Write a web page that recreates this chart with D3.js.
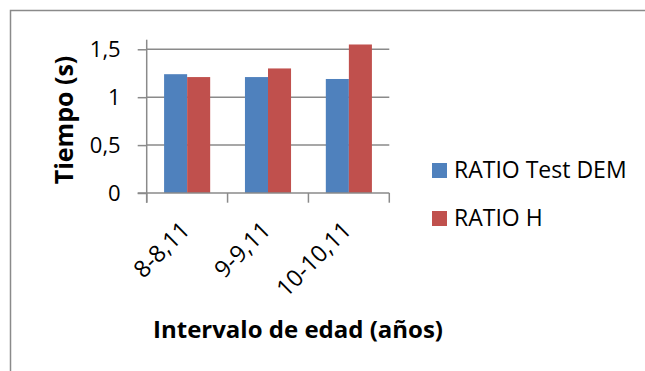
<!DOCTYPE html>
<html><head><meta charset="utf-8">
<script src="https://cdn.jsdelivr.net/npm/d3@7/dist/d3.min.js"></script>
<style>
html,body{margin:0;padding:0;background:#fff;}
svg text{font-family:"Open Sans",sans-serif;fill:#000;}
</style></head>
<body><svg id="c" width="645" height="371"></svg>
<script>
const categories = ["8-8,11", "9-9,11", "10-10,11"];
const seriesNames = ["RATIO Test DEM", "RATIO H"];
const ratioTestDEM = [1.24, 1.21, 1.19];
const ratioH = [1.21, 1.30, 1.55];
const yTicks = [0, 0.5, 1, 1.5];
const yTickLabels = ["0", "0,5", "1", "1,5"];
const colors = ["#4F81BD", "#C0504D"];
const yTitle = "Tiempo (s)";
const xTitle = "Intervalo de edad (años)";

const values = [ratioTestDEM, ratioH];
const svg = d3.select("#c");
const gray = "#8a8a8a";

// outer frame
svg.append("rect").attr("x", 10.5).attr("y", 10.5).attr("width", 700).attr("height", 400)
  .attr("fill", "none").attr("stroke", gray).attr("stroke-width", 1.5);

const pLeft = 146.7, pRight = 389.3, pTop = 39.7, pBottom = 193;
const y = d3.scaleLinear().domain([0, 1.6]).range([pBottom, pTop]);
const x = d3.scaleBand().domain(categories).range([pLeft, pRight]).paddingInner(0).paddingOuter(0);
const bw = x.bandwidth();
const gw = bw * 0.57;
const x1 = d3.scaleBand().domain(seriesNames).range([(bw - gw) / 2, (bw + gw) / 2]);

// gridlines
svg.append("g").selectAll("line").data(yTicks.filter(d => d > 0)).join("line")
  .attr("x1", pLeft).attr("x2", pRight).attr("y1", d => y(d)).attr("y2", d => y(d))
  .attr("stroke", gray).attr("stroke-width", 1.5);

// bars
const groups = svg.append("g").selectAll("g").data(categories).join("g")
  .attr("transform", c => `translate(${x(c)},0)`);
groups.selectAll("rect").data((c, i) => seriesNames.map((s, j) => ({ s, j, v: values[j][i] }))).join("rect")
  .attr("x", d => x1(d.s)).attr("width", x1.bandwidth())
  .attr("y", d => y(d.v)).attr("height", d => y(0) - y(d.v))
  .attr("fill", d => colors[d.j]);

// y axis
const yAxis = d3.axisLeft(y).tickValues(yTicks).tickSize(9).tickPadding(17)
  .tickFormat((d, i) => yTickLabels[i]);
const gy = svg.append("g").attr("transform", `translate(${pLeft},0)`).call(yAxis);
gy.select(".domain").attr("stroke", gray).attr("stroke-width", 1.5).attr("d", `M0,${y(1.6)}V${pBottom + 9.7}`);
gy.selectAll(".tick line").attr("stroke", gray).attr("stroke-width", 1.5);
gy.selectAll(".tick text").attr("font-size", 22).attr("font-family", "Open Sans").attr("fill", "#000");

// x axis line + ticks at band boundaries
const gx = svg.append("g");
gx.append("line").attr("x1", pLeft - 9).attr("x2", pRight).attr("y1", pBottom).attr("y2", pBottom)
  .attr("stroke", gray).attr("stroke-width", 1.5);
const boundaries = categories.map(c => x(c)).concat([x(categories[categories.length - 1]) + bw]);
gx.selectAll("line.t").data(boundaries).join("line").attr("class", "t")
  .attr("x1", d => d).attr("x2", d => d).attr("y1", pBottom).attr("y2", pBottom + 9.7)
  .attr("stroke", gray).attr("stroke-width", 1.5);
gx.selectAll("text").data(categories).join("text")
  .attr("transform", c => `translate(${x(c) + bw / 2 + 4},${pBottom + 38.5}) rotate(-45)`)
  .attr("text-anchor", "end").attr("font-size", 23.5).text(c => c);

// axis titles
svg.append("text").attr("transform", `translate(73,120) rotate(-90)`)
  .attr("text-anchor", "middle").attr("font-size", 25).attr("font-weight", "bold").text(yTitle);
svg.append("text").attr("x", 298).attr("y", 337.5)
  .attr("text-anchor", "middle").attr("font-size", 24).attr("font-weight", "bold").text(xTitle);

// legend
const lg = svg.append("g").selectAll("g").data(seriesNames).join("g")
  .attr("transform", (d, i) => `translate(432,${163 + i * 48})`);
lg.append("rect").attr("width", 15).attr("height", 15).attr("fill", (d, i) => colors[i]);
lg.append("text").attr("x", 22).attr("y", 15).attr("font-size", 23).text(d => d);
</script></body></html>
